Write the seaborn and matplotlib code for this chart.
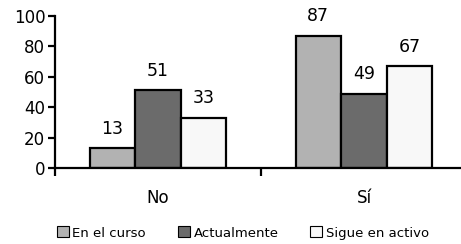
import pandas as pd
import matplotlib
matplotlib.use("Agg")
import matplotlib.pyplot as plt
import matplotlib.patches as mpatches
import seaborn as sns

# Data
categories = ["No", "Sí"]
series = ["En el curso", "Actualmente", "Sigue en activo"]
en_el_curso = [13, 87]
actualmente = [51, 49]
sigue_en_activo = [33, 67]
colors = ["#b2b2b2", "#6b6b6b", "#f8f8f8"]

rows = []
for name, vals in zip(series, [en_el_curso, actualmente, sigue_en_activo]):
    for cat, v in zip(categories, vals):
        rows.append({"respuesta": cat, "serie": name, "valor": v})
df = pd.DataFrame(rows)

sns.set_style("ticks")
plt.rcParams["font.family"] = ["DejaVu Sans"]
plt.rcParams["text.color"] = "black"
plt.rcParams["xtick.color"] = "black"
plt.rcParams["ytick.color"] = "black"

fig = plt.figure(figsize=(4.61, 2.44), dpi=100)
ax = fig.add_axes([55 / 461, 76 / 244, 412 / 461, 152 / 244])

sns.barplot(data=df, x="respuesta", y="valor", hue="serie", hue_order=series,
            order=categories, palette=colors, width=0.665, edgecolor="black",
            linewidth=1.6, saturation=1, ax=ax)

for cont in ax.containers:
    ax.bar_label(cont, padding=7.5, fontsize=12.5, color="black")

ax.set_xlim(-0.5, 1.5)
ax.set_ylim(0, 100)
ax.set_yticks([0, 20, 40, 60, 80, 100])
ax.set_xlabel("")
ax.set_ylabel("")
ax.set_xticks([-0.5, 0.5], minor=True)
ax.tick_params(axis="x", which="major", length=0, pad=15, labelsize=12)
ax.tick_params(axis="x", which="minor", length=6, width=1.6, color="black")
ax.tick_params(axis="y", length=5, width=1.6, color="black", labelsize=12, pad=2)
for s in ["left", "bottom"]:
    ax.spines[s].set_linewidth(1.6)
    ax.spines[s].set_color("black")
sns.despine(ax=ax)

ax.get_legend().remove()
handles = [mpatches.Patch(facecolor=c, edgecolor="black", linewidth=0.8) for c in colors]
fig.legend(handles, series, loc="center", bbox_to_anchor=(0.527, 11 / 244), ncol=3,
           frameon=False, fontsize=9.5, handlelength=0.9, handleheight=0.9,
           handletextpad=0.3, columnspacing=2.4)

fig.savefig("out.png", dpi=100)
